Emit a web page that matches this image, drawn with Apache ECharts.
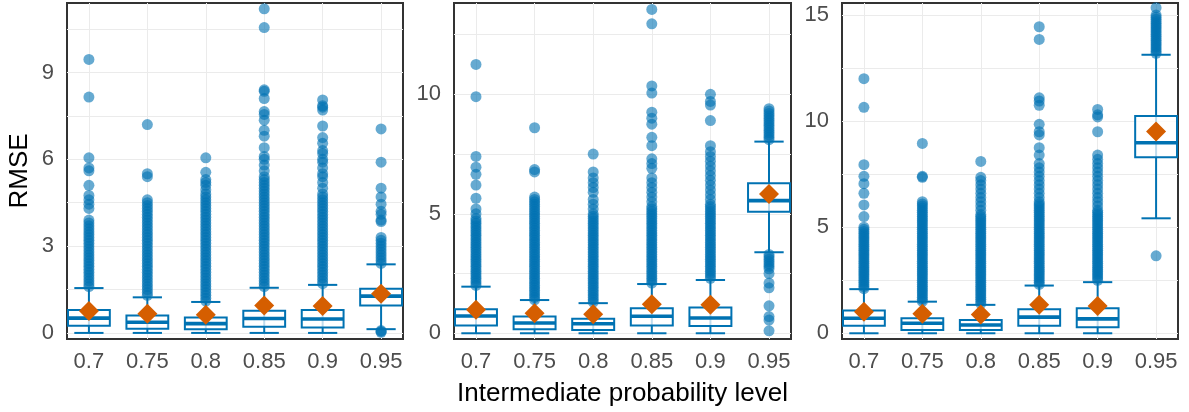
<!DOCTYPE html>
<html><head><meta charset="utf-8">
<script src="https://cdn.jsdelivr.net/npm/echarts@6/dist/echarts.min.js"></script>
<style>html,body{margin:0;padding:0;background:#fff}#c{width:1189px;height:412px}</style>
</head><body><div id="c"></div><script>
const categories = ['0.7', '0.75', '0.8', '0.85', '0.9', '0.95'];

// y-axis ticks (gridlines) and labels for each panel
const p1Grid = [0, 1.5, 3, 4.5, 6, 7.5, 9, 10.5];
const p1Labels = [0, 3, 6, 9];
const p2Grid = [0, 2.5, 5, 7.5, 10, 12.5];
const p2Labels = [0, 5, 10];
const p3Grid = [0, 2.5, 5, 7.5, 10, 12.5, 15];
const p3Labels = [0, 5, 10, 15];
const p1Range = [-0.21, 11.4];
const p2Range = [-0.24, 13.82];
const p3Range = [-0.27, 15.57];

// box stats: [lower whisker, Q1, median, Q3, upper whisker]
const p1Box = [[0, 0.25, 0.51, 0.79, 1.55], [0, 0.14, 0.37, 0.60, 1.23], [0, 0.13, 0.32, 0.53, 1.07],
               [0, 0.21, 0.50, 0.77, 1.56], [0, 0.19, 0.48, 0.79, 1.66], [0.13, 0.95, 1.27, 1.53, 2.37]];
const p1Mean = [0.76, 0.66, 0.63, 0.95, 0.93, 1.35];
const p2Box = [[0, 0.33, 0.72, 1.01, 1.95], [0, 0.17, 0.43, 0.70, 1.39], [0, 0.14, 0.40, 0.61, 1.26],
               [0, 0.32, 0.71, 1.05, 2.06], [0, 0.30, 0.64, 1.08, 2.23], [3.39, 5.09, 5.55, 6.28, 8.02]];
const p2Mean = [0.98, 0.84, 0.80, 1.21, 1.19, 5.83];
const p3Box = [[0, 0.36, 0.71, 1.07, 2.08], [0, 0.16, 0.47, 0.71, 1.49], [0, 0.16, 0.39, 0.63, 1.34],
               [0, 0.36, 0.76, 1.13, 2.25], [0, 0.28, 0.68, 1.18, 2.41], [5.42, 8.30, 8.98, 10.24, 13.13]];
const p3Mean = [1.02, 0.92, 0.89, 1.34, 1.29, 9.51];

// outliers per category
const p1Out = [
  [1.6,1.7,1.8,1.9,2.0,2.1,2.2,2.3,2.4,2.5,2.6,2.7,2.8,2.9,3.0,3.1,3.2,3.3,3.4,3.5,3.6,3.7,3.8,3.9,4.3,4.45,4.6,4.75,5.1,5.6,5.7,6.05,8.15,9.45],
  [1.3,1.4,1.5,1.6,1.7,1.8,1.9,2.0,2.1,2.2,2.3,2.4,2.5,2.6,2.7,2.8,2.9,3.0,3.1,3.2,3.3,3.4,3.5,3.6,3.7,3.8,3.9,4.0,4.1,4.2,4.3,4.4,4.5,4.6,5.4,5.5,7.2],
  [1.1,1.2,1.3,1.4,1.5,1.6,1.7,1.8,1.9,2.0,2.1,2.2,2.3,2.4,2.5,2.6,2.7,2.8,2.9,3.0,3.1,3.2,3.3,3.4,3.5,3.6,3.7,3.8,3.9,4.0,4.1,4.2,4.3,4.4,4.5,4.6,4.7,4.8,4.95,5.1,5.2,5.3,5.55,6.05],
  [1.6,1.7,1.8,1.9,2.0,2.1,2.2,2.3,2.4,2.5,2.6,2.7,2.8,2.9,3.0,3.1,3.2,3.3,3.4,3.5,3.6,3.7,3.8,3.9,4.0,4.1,4.2,4.3,4.4,4.5,4.6,4.7,4.8,4.9,5.0,5.1,5.2,5.3,5.4,5.6,5.8,6.0,6.1,6.4,6.8,7.0,7.35,7.55,7.65,8.1,8.35,8.4,10.55,11.2],
  [1.7,1.8,1.9,2.0,2.1,2.2,2.3,2.4,2.5,2.6,2.7,2.8,2.9,3.0,3.1,3.2,3.3,3.4,3.5,3.6,3.7,3.8,3.9,4.0,4.1,4.2,4.3,4.4,4.5,4.6,4.7,4.8,5.0,5.2,5.4,5.5,5.7,5.9,6.0,6.2,6.3,6.55,6.75,7.15,7.7,7.8,7.85,8.05],
  [0.02,0.05,0.08,2.4,2.5,2.6,2.7,2.8,2.9,3.0,3.1,3.2,3.3,3.85,3.9,4.1,4.2,4.45,4.7,5.0,5.9,7.05]
];
const p2Out = [
  [2.0,2.1,2.2,2.3,2.4,2.5,2.6,2.7,2.8,2.9,3.0,3.1,3.2,3.3,3.4,3.5,3.6,3.7,3.8,3.9,4.0,4.1,4.2,4.3,4.4,4.5,4.6,4.7,4.8,5.0,5.2,5.65,6.2,6.65,6.95,7.4,9.9,11.25],
  [1.4,1.5,1.6,1.7,1.8,1.9,2.0,2.1,2.2,2.3,2.4,2.5,2.6,2.7,2.8,2.9,3.0,3.1,3.2,3.3,3.4,3.5,3.6,3.7,3.8,3.9,4.0,4.1,4.2,4.3,4.4,4.5,4.6,4.7,4.8,4.9,5.0,5.1,5.2,5.3,5.4,5.5,5.6,5.7,6.75,6.85,8.6],
  [1.3,1.4,1.5,1.6,1.7,1.8,1.9,2.0,2.1,2.2,2.3,2.4,2.5,2.6,2.7,2.8,2.9,3.0,3.1,3.2,3.3,3.4,3.5,3.6,3.7,3.8,3.9,4.0,4.1,4.2,4.3,4.4,4.5,4.6,4.7,4.8,4.9,5.0,5.2,5.4,5.6,5.9,6.1,6.3,6.5,6.75,7.5],
  [2.1,2.2,2.3,2.4,2.5,2.6,2.7,2.8,2.9,3.0,3.1,3.2,3.3,3.4,3.5,3.6,3.7,3.8,3.9,4.0,4.1,4.2,4.3,4.4,4.5,4.6,4.7,4.8,4.9,5.0,5.1,5.2,5.3,5.5,5.7,5.9,6.1,6.3,6.5,6.9,7.1,7.3,7.85,8.2,8.75,9.0,9.25,10.05,10.35,12.95,13.55],
  [2.3,2.4,2.5,2.6,2.7,2.8,2.9,3.0,3.1,3.2,3.3,3.4,3.5,3.6,3.7,3.8,3.9,4.0,4.1,4.2,4.3,4.4,4.5,4.6,4.7,4.8,4.9,5.0,5.1,5.2,5.3,5.4,5.6,5.8,6.0,6.2,6.4,6.6,6.8,7.0,7.2,7.4,7.6,7.85,8.9,9.55,9.7,10.0],
  [0.1,0.55,0.7,1.15,1.9,2.1,2.5,2.7,2.8,2.9,3.0,3.1,3.2,3.3,8.1,8.2,8.3,8.4,8.5,8.6,8.7,8.8,8.9,9.0,9.1,9.2,9.3,9.4]
];
const p3Out = [
  [2.1,2.2,2.3,2.4,2.5,2.6,2.7,2.8,2.9,3.0,3.1,3.2,3.3,3.4,3.5,3.6,3.7,3.8,3.9,4.0,4.1,4.2,4.3,4.4,4.5,4.6,4.7,4.8,4.9,5.0,5.5,6.05,6.6,7.05,7.4,7.95,10.65,12.0],
  [1.5,1.6,1.7,1.8,1.9,2.0,2.1,2.2,2.3,2.4,2.5,2.6,2.7,2.8,2.9,3.0,3.1,3.2,3.3,3.4,3.5,3.6,3.7,3.8,3.9,4.0,4.1,4.2,4.3,4.4,4.5,4.6,4.7,4.8,4.9,5.0,5.1,5.2,5.3,5.4,5.5,5.6,5.7,5.8,5.9,6.0,6.1,6.2,7.35,7.4,8.95],
  [1.4,1.5,1.6,1.7,1.8,1.9,2.0,2.1,2.2,2.3,2.4,2.5,2.6,2.7,2.8,2.9,3.0,3.1,3.2,3.3,3.4,3.5,3.6,3.7,3.8,3.9,4.0,4.1,4.2,4.3,4.4,4.5,4.6,4.7,4.8,4.9,5.0,5.1,5.2,5.3,5.4,5.5,5.6,5.8,6.0,6.2,6.4,6.6,6.8,7.0,7.2,7.35,8.1],
  [2.3,2.4,2.5,2.6,2.7,2.8,2.9,3.0,3.1,3.2,3.3,3.4,3.5,3.6,3.7,3.8,3.9,4.0,4.1,4.2,4.3,4.4,4.5,4.6,4.7,4.8,4.9,5.0,5.1,5.2,5.3,5.4,5.5,5.6,5.7,5.8,5.9,6.0,6.1,6.2,6.4,6.6,6.8,7.0,7.2,7.4,7.6,7.8,8.0,8.4,8.75,9.35,9.5,9.85,10.75,10.95,11.1,13.85,14.45],
  [2.5,2.6,2.7,2.8,2.9,3.0,3.1,3.2,3.3,3.4,3.5,3.6,3.7,3.8,3.9,4.0,4.1,4.2,4.3,4.4,4.5,4.6,4.7,4.8,4.9,5.0,5.1,5.2,5.3,5.4,5.5,5.6,5.7,5.8,6.0,6.2,6.4,6.6,6.8,7.0,7.2,7.4,7.6,7.8,8.0,8.2,8.4,9.5,10.2,10.3,10.55],
  [3.65,13.2,13.3,13.4,13.5,13.6,13.7,13.8,13.9,14.0,14.1,14.2,14.3,14.4,14.5,14.6,14.7,14.8,14.9,15.0,15.35]
];

const BLUE = '#0072B2';
const ORANGE = '#D55E00';
const FONT = 'Liberation Sans';
const xTicks = [1, 2, 3, 4, 5, 6];

const panels = [
  {left: 67, width: 336, grid: p1Grid, labels: p1Labels, range: p1Range, box: p1Box, mean: p1Mean, out: p1Out},
  {left: 454, width: 337, grid: p2Grid, labels: p2Labels, range: p2Range, box: p2Box, mean: p2Mean, out: p2Out},
  {left: 842, width: 336, grid: p3Grid, labels: p3Labels, range: p3Range, box: p3Box, mean: p3Mean, out: p3Out}
];

function renderBox(params, api) {
  const x = api.value(0);
  const lo = api.coord([x, api.value(1)]);
  const q1 = api.coord([x, api.value(2)]);
  const md = api.coord([x, api.value(3)]);
  const q3 = api.coord([x, api.value(4)]);
  const hi = api.coord([x, api.value(5)]);
  const bw = api.size([0.75, 0])[0];
  const cw = api.size([0.5, 0])[0];
  const cx = lo[0];
  const st = {stroke: BLUE, lineWidth: 2, fill: null};
  return {type: 'group', children: [
    {type: 'line', shape: {x1: cx, y1: lo[1], x2: cx, y2: hi[1]}, style: st},
    {type: 'line', shape: {x1: cx - cw / 2, y1: hi[1], x2: cx + cw / 2, y2: hi[1]}, style: st},
    {type: 'line', shape: {x1: cx - cw / 2, y1: lo[1], x2: cx + cw / 2, y2: lo[1]}, style: st},
    {type: 'rect', shape: {x: cx - bw / 2 + 1, y: q3[1], width: bw - 2, height: q1[1] - q3[1]},
      style: {fill: 'rgba(255,255,255,0.75)', stroke: BLUE, lineWidth: 2}},
    {type: 'line', shape: {x1: cx - bw / 2 + 1, y1: md[1], x2: cx + bw / 2 - 1, y2: md[1]},
      style: {stroke: BLUE, lineWidth: 3.6}}
  ]};
}

const grid = [], xAxis = [], yAxis = [], series = [];
panels.forEach((p, k) => {
  grid.push({left: p.left, top: 3, width: p.width, height: 336, show: true,
    borderColor: '#333333', borderWidth: 2, backgroundColor: 'transparent'});
  xAxis.push({type: 'value', gridIndex: k, min: 0.625, max: 6.375,
    axisLine: {show: false}, axisTick: {show: false, customValues: xTicks},
    splitLine: {show: true, lineStyle: {color: '#ebebeb', width: 1}},
    axisLabel: {customValues: xTicks, formatter: v => categories[Math.round(v) - 1],
      fontFamily: FONT, fontSize: 22, color: '#4d4d4d', margin: 12},
    name: k === 1 ? 'Intermediate probability level' : '', nameLocation: 'middle', nameGap: 42,
    nameTextStyle: {fontFamily: FONT, fontSize: 26, color: '#000'}});
  yAxis.push({type: 'value', gridIndex: k, min: p.range[0], max: p.range[1],
    axisLine: {show: false}, axisTick: {show: false, customValues: p.grid},
    splitLine: {show: true, lineStyle: {color: '#ebebeb', width: 1}},
    axisLabel: {customValues: p.labels, fontFamily: FONT, fontSize: 22, color: '#4d4d4d', margin: 13},
    name: k === 0 ? 'RMSE' : '', nameLocation: 'middle', nameGap: 34,
    nameTextStyle: {fontFamily: FONT, fontSize: 26, color: '#000'}});
  const pts = [];
  p.out.forEach((arr, i) => arr.forEach(v => pts.push([i + 1, v])));
  series.push({type: 'scatter', xAxisIndex: k, yAxisIndex: k, data: pts, symbolSize: 11,
    itemStyle: {color: BLUE, opacity: 0.6}, silent: true, z: 2});
  series.push({type: 'custom', xAxisIndex: k, yAxisIndex: k, renderItem: renderBox,
    data: p.box.map((b, i) => [i + 1].concat(b)), encode: {x: 0, y: [1, 2, 3, 4, 5]}, silent: true, z: 3});
  series.push({type: 'scatter', xAxisIndex: k, yAxisIndex: k, data: p.mean.map((m, i) => [i + 1, m]),
    symbol: 'diamond', symbolSize: 20, itemStyle: {color: ORANGE, opacity: 1}, silent: true, z: 4});
});

const chart = echarts.init(document.getElementById('c'), null, {renderer: 'canvas'});
chart.setOption({animation: false, backgroundColor: '#fff', grid, xAxis, yAxis, series});
</script></body></html>
